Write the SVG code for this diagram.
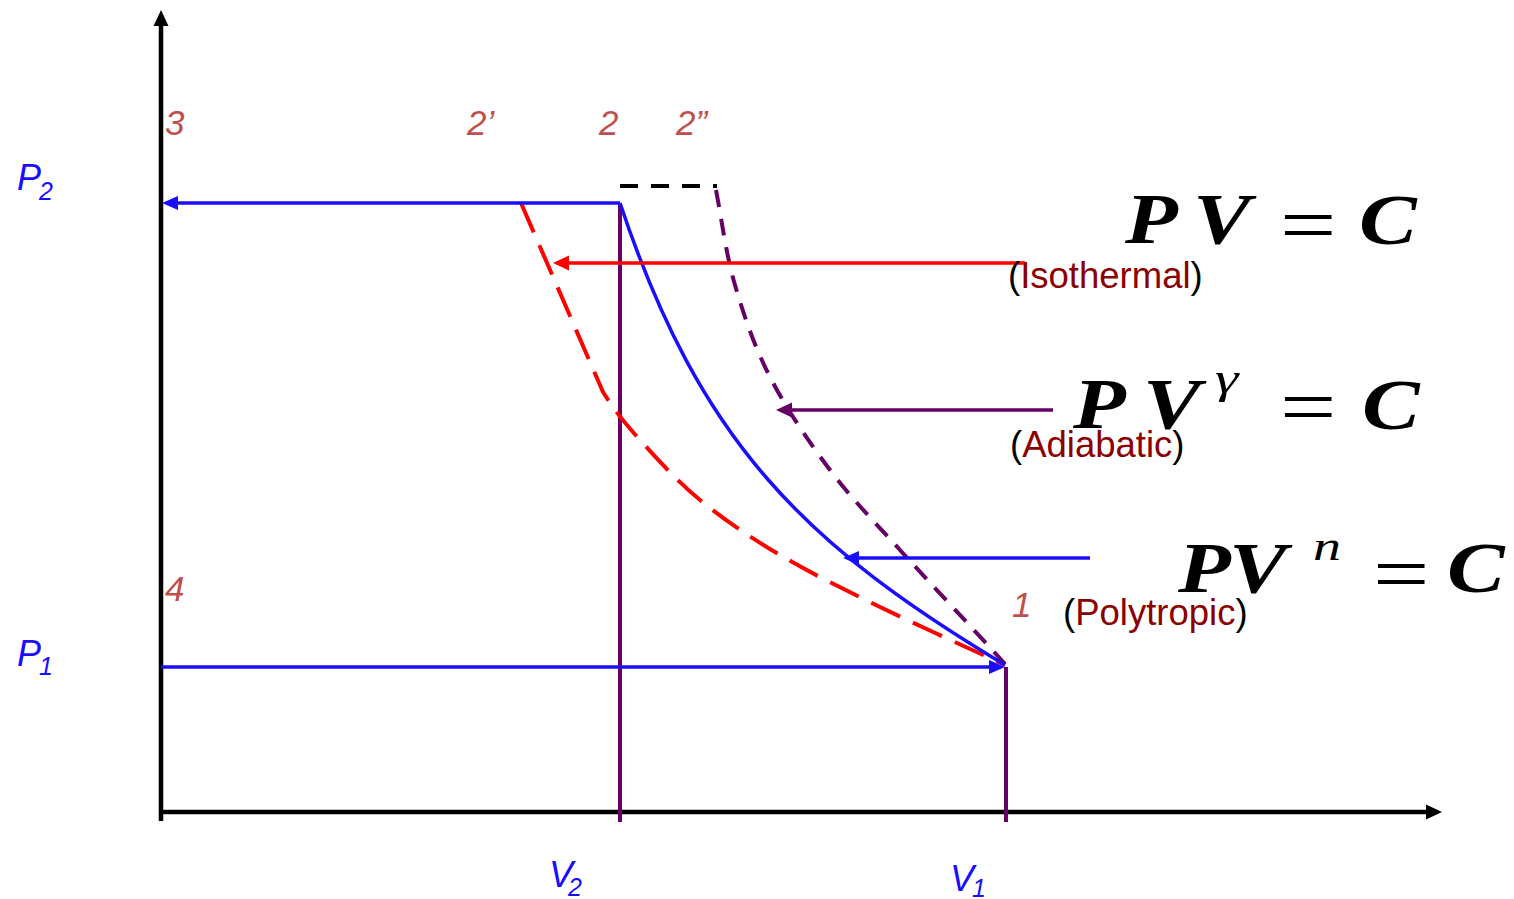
<svg xmlns="http://www.w3.org/2000/svg" width="1514" height="899" viewBox="0 0 1514 899">
<style>
.axis{stroke:#000;stroke-width:4.5;fill:none}
.blue{stroke:#1a0dff;stroke-width:3.5;fill:none}
.red{stroke:#ff0000;stroke-width:3.5;fill:none}
.purple{stroke:#660066;stroke-width:3.5;fill:none}
.vline{stroke:#660066;stroke-width:4;fill:none}
.dash-red{stroke:#ff0000;stroke-width:4;fill:none;stroke-dasharray:32 14}
.dash-purple{stroke:#660066;stroke-width:4;fill:none;stroke-dasharray:17 12}
.dash-black{stroke:#000;stroke-width:4;fill:none;stroke-dasharray:18 13}
.num{font-family:"Liberation Sans",Arial,sans-serif;font-style:italic;font-size:35px;fill:#c0504d}
.lbl{font-family:"Liberation Sans",Arial,sans-serif;font-style:italic;font-size:36px;fill:#1a0dff}
.sub{font-family:"Liberation Sans",Arial,sans-serif;font-style:italic;font-size:25px;fill:#1a0dff}
.name{font-family:"Liberation Sans",Arial,sans-serif;font-size:36.5px;fill:#8b0000}
.par{fill:#000}
.eq{font-family:"Liberation Serif","Times New Roman",serif;font-style:italic;font-weight:bold;font-size:72px;fill:#000}
.eqs{font-family:"Liberation Serif","Times New Roman",serif;font-style:italic;font-size:44px;fill:#000}
.eqop{font-family:"Liberation Serif","Times New Roman",serif;font-size:80px;fill:#000}
</style>
<defs>
<marker id="ah-black" markerUnits="userSpaceOnUse" viewBox="0 0 16 16" markerWidth="16" markerHeight="16" refX="11" refY="8" orient="auto"><path d="M0,0.5 L16,8 L0,15.5 z" fill="#000"/></marker>
<marker id="ah-blue" markerUnits="userSpaceOnUse" viewBox="0 0 16 16" markerWidth="16" markerHeight="16" refX="11" refY="8" orient="auto"><path d="M0,1 L16,8 L0,15 z" fill="#1a0dff"/></marker>
<marker id="ah-red" markerUnits="userSpaceOnUse" viewBox="0 0 16 16" markerWidth="16" markerHeight="16" refX="11" refY="8" orient="auto"><path d="M0,0.5 L16,8 L0,15.5 z" fill="#ff0000"/></marker>
<marker id="ah-purple" markerUnits="userSpaceOnUse" viewBox="0 0 16 16" markerWidth="16" markerHeight="16" refX="11" refY="8" orient="auto"><path d="M0,0.5 L16,8 L0,15.5 z" fill="#660066"/></marker>
</defs>
<rect width="1514" height="899" fill="#fff"/>

<g id="axes">
<line class="axis" x1="161" y1="821" x2="161" y2="15" marker-end="url(#ah-black)"/>
<line class="axis" x1="159" y1="812" x2="1437" y2="812" marker-end="url(#ah-black)"/>
</g>

<g id="curves">
<line class="vline" x1="620" y1="203" x2="620" y2="822"/>
<line class="vline" x1="1006" y1="667" x2="1006" y2="822"/>
<line class="dash-black" x1="620" y1="186" x2="717" y2="186"/>
<path id="isothermal-curve" class="dash-red" d="M521,203 L603,392 C615,411 623.8,422 640,440 C656.2,458 676.7,480.8 700,500 C723.3,519.2 750,537.2 780,555 C810,572.8 842.5,588.7 880,607 C917.5,625.3 984.2,655.3 1005,665"/>
<path id="adiabatic-curve" class="dash-purple" d="M716,190 C722.3,223 726,254.2 735,285 C744,315.8 754.2,346.2 770,377 C785.8,407.8 808.3,441.2 830,470 C851.7,498.8 870.8,517.8 900,550 C929.2,582.2 970,625.3 1005,664"/>
<path id="polytropic-curve" class="blue" d="M620,203 C700,443 805,545 1005,665"/>
</g>

<g id="connectors">
<line class="blue" x1="620" y1="203" x2="167" y2="203" marker-end="url(#ah-blue)"/>
<line class="blue" x1="161" y1="667" x2="1000" y2="667" marker-end="url(#ah-blue)"/>
<line class="red" x1="1025" y1="263" x2="558" y2="263" marker-end="url(#ah-red)"/>
<line class="purple" x1="1053" y1="410" x2="781" y2="410" marker-end="url(#ah-purple)"/>
<line class="blue" x1="1090" y1="558" x2="848" y2="558" marker-end="url(#ah-blue)"/>
</g>

<g id="point-labels">
<text class="num" x="165" y="135">3</text>
<text class="num" x="467" y="135">2’</text>
<text class="num" x="599" y="135">2</text>
<text class="num" x="676" y="135">2”</text>
<text class="num" x="165" y="601">4</text>
<text class="num" x="1012" y="617">1</text>
</g>

<g id="axis-labels">
<text class="lbl" x="17" y="190">P</text><text class="sub" x="39" y="200">2</text>
<text class="lbl" x="17" y="666">P</text><text class="sub" x="39" y="675">1</text>
<text class="lbl" x="549" y="887">V</text><text class="sub" x="568" y="896">2</text>
<text class="lbl" x="950" y="891">V</text><text class="sub" x="972" y="897">1</text>
</g>

<g id="isothermal">
<text class="eq" transform="translate(1125,243) scale(1.2,1)">P</text>
<text class="eq" transform="translate(1193,243) scale(1.2,1)">V</text>
<text class="eqop" transform="translate(1280,252) scale(1.25,1)">=</text>
<text class="eq" transform="translate(1359,244) scale(1.2,1)">C</text>
<text class="name" x="1008" y="288"><tspan class="par">(</tspan>Isothermal<tspan class="par">)</tspan></text>
</g>

<g id="adiabatic">
<text class="eq" transform="translate(1073,428) scale(1.2,1)">P</text>
<text class="eq" transform="translate(1143,428) scale(1.2,1)">V</text>
<text class="eqs" transform="translate(1215,393) scale(1.35,1)">γ</text>
<text class="eqop" transform="translate(1280,434) scale(1.25,1)">=</text>
<text class="eq" transform="translate(1362,429) scale(1.2,1)">C</text>
<text class="name" x="1010" y="457"><tspan class="par">(</tspan>Adiabatic<tspan class="par">)</tspan></text>
</g>

<g id="polytropic">
<text class="eq" transform="translate(1178,592) scale(1.2,1)">P</text>
<text class="eq" transform="translate(1229,592) scale(1.2,1)">V</text>
<text class="eqs" transform="translate(1313,560) scale(1.4,1)" style="font-size:40px">n</text>
<text class="eqop" transform="translate(1373,601) scale(1.25,1)">=</text>
<text class="eq" transform="translate(1447,592) scale(1.2,1)">C</text>
<text class="name" x="1063" y="625"><tspan class="par">(</tspan>Polytropic<tspan class="par">)</tspan></text>
</g>
</svg>
